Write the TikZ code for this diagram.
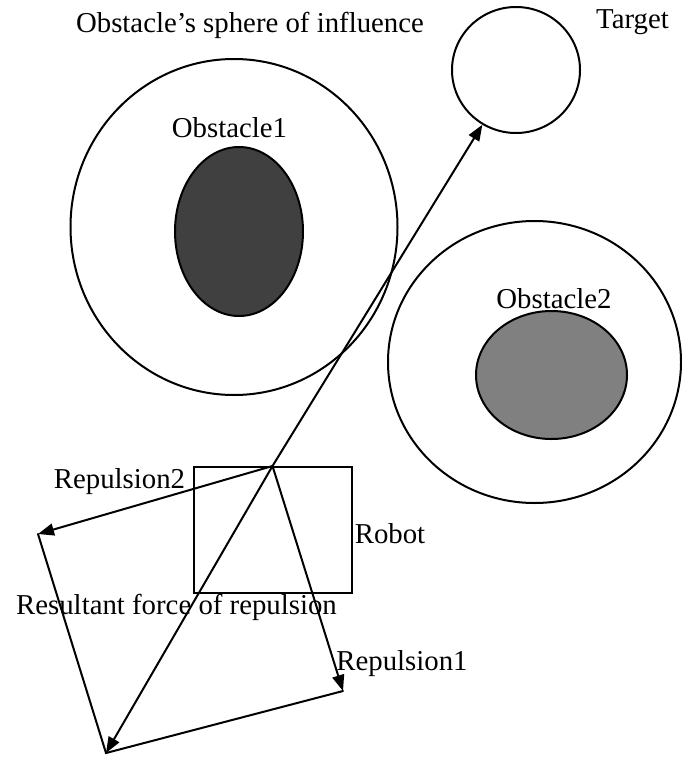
\documentclass[tikz,border=0pt]{standalone}
\usepackage{fontspec}
\setmainfont{Liberation Serif}
\usepackage{tikz}
\usetikzlibrary{arrows.meta,positioning,shapes.geometric}
\definecolor{obDark}{HTML}{404040}
\definecolor{obGrey}{HTML}{808080}
\tikzset{
  ob diagram/.style={line width=2pt, line cap=round, line join=miter},
  ob zone/.style={ellipse, draw, inner sep=0pt},
  ob core/.style={ob zone, fill=#1},
  ob box/.style={draw, rectangle, inner sep=0pt},
  ob force/.style={-{Triangle[length=16pt,width=12pt]}},
  ob label/.style={anchor=base, inner sep=0pt,
    font=\fontsize{28.8}{34}\selectfont}
}
\begin{document}
\begin{tikzpicture}[ob diagram,x=1pt,y=-1pt]
\useasboundingbox (0,0) rectangle (681,760);
\node[ob zone,minimum width=327pt,minimum height=336pt] (zone1) at (234,227) {};
\node[ob core=obDark,minimum width=128pt,minimum height=169pt] (obst1) at (239,231.5) {};
\node[ob zone,minimum width=293pt,minimum height=282pt] (zone2) at (534.5,362) {};
\node[ob core=obGrey,minimum width=151pt,minimum height=128pt] (obst2) at (551.5,375) {};
\node[ob zone,minimum width=128pt,minimum height=126pt] (target) at (516,70) {};
\node[ob box,minimum width=158pt,minimum height=126pt] (robot) at (272.5,530) {};
\coordinate (origin) at (robot.north);
\coordinate (rep1) at (343,691);
\coordinate (rep2) at (38,534);
\coordinate (result) at (106,753);
\draw[ob force] (origin) -- (target);
\draw[ob force] (origin) -- (rep2);
\draw[ob force] (origin) -- (rep1);
\draw[ob force] (origin) -- (result);
\draw (rep2) -- (result) -- (rep1);
\node[ob label] (lblzone) at (250,33) {Obstacle’s sphere of influence};
\node[ob label] (lbltarget) at (632.5,29) {Target};
\node[ob label] (lblobst1) at (229.5,137) {Obstacle1};
\node[ob label] (lblobst2) at (554,308) {Obstacle2};
\node[ob label] (lblrep2) at (119.5,488) {Repulsion2};
\node[ob label] (lblrobot) at (390,543) {Robot};
\node[ob label] (lblresult) at (176.5,614) {Resultant force of repulsion};
\node[ob label] (lblrep1) at (402,670) {Repulsion1};
\end{tikzpicture}
\end{document}
